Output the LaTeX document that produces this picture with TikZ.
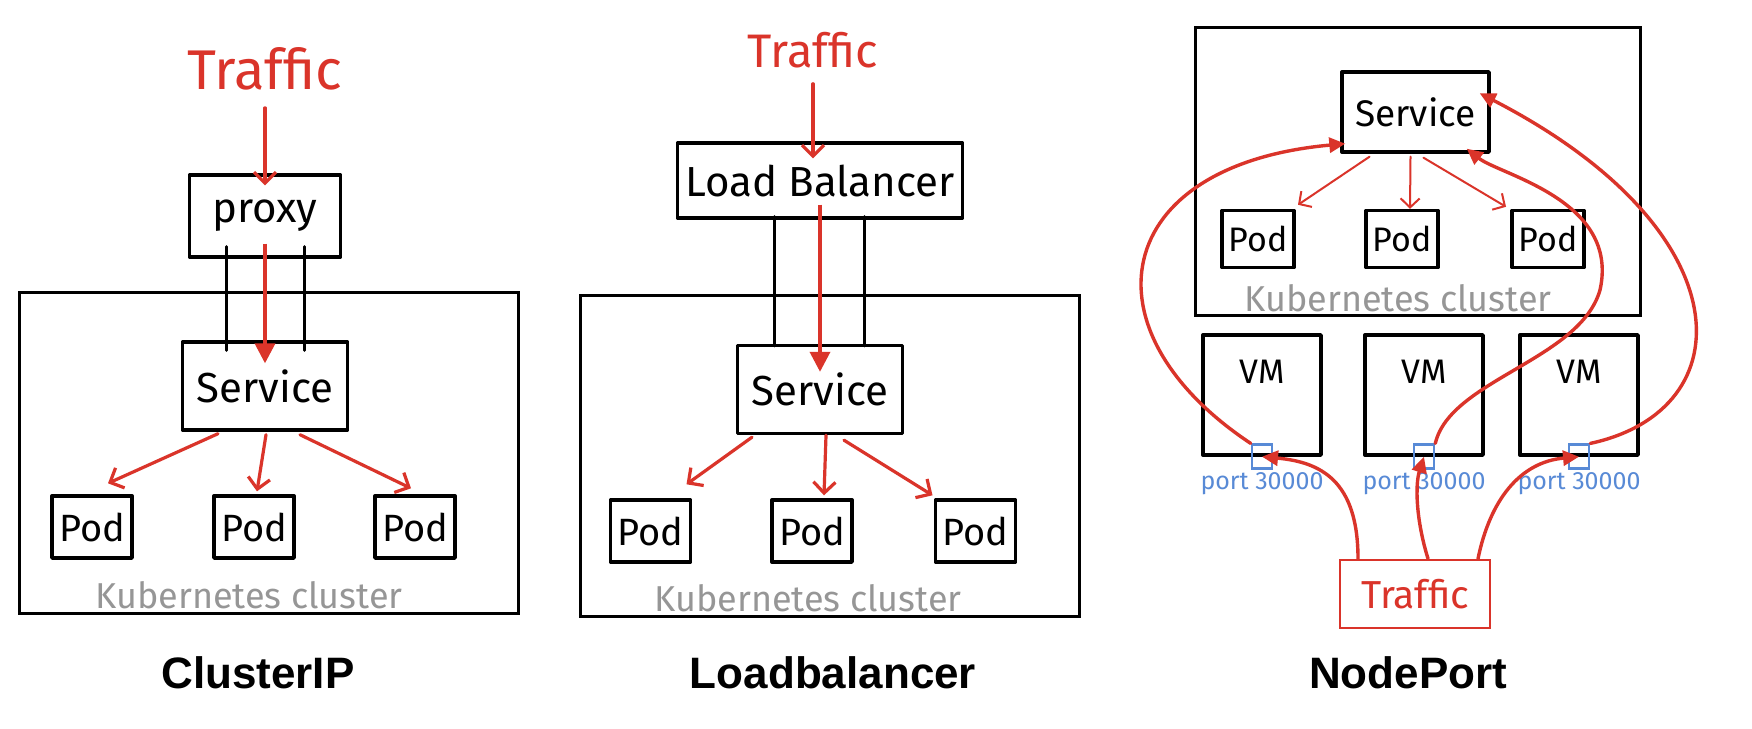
\documentclass[tikz,border=0pt]{standalone}
\usepackage{fontspec}
\setmainfont{Fira Sans}
\newfontfamily\titlefont{Liberation Sans}
\usetikzlibrary{arrows.meta, positioning}
\definecolor{sketchred}{RGB}{218,52,42}
\definecolor{portblue}{RGB}{88,138,214}
\definecolor{clustergray}{RGB}{150,150,150}

\begin{document}
\begin{tikzpicture}[
    x=1pt, y=1pt,
    on grid,
    every node/.style={inner sep=2pt},
    box/.style={draw, line width=3.4pt, inner sep=0pt, line join=round},
    cluster/.style={draw, line width=3pt, minimum width=499pt, minimum height=321pt},
    service/.style={box, minimum width=165pt, minimum height=88pt, font=\fontsize{42}{44}\selectfont},
    pod/.style={box, minimum width=80pt, minimum height=62pt, font=\fontsize{38}{40}\selectfont},
    smallpod/.style={box, minimum width=72pt, minimum height=57pt, font=\fontsize{34}{36}\selectfont},
    vm/.style={box, minimum width=118pt, minimum height=120pt},
    port/.style={draw=portblue, line width=2.6pt, minimum width=20pt, minimum height=24pt, inner sep=0pt, label distance=3pt},
    portlabel/.style={text=portblue, font=\fontsize{25}{27}\selectfont},
    clusterlabel/.style={text=clustergray, font=\fontsize{36}{38}\selectfont, anchor=base},
    traffic/.style={text=sketchred, anchor=base},
    title/.style={font=\titlefont\bfseries\fontsize{44}{48}\selectfont, anchor=base},
    wire/.style={line width=3pt, line cap=round},
    flow/.style={draw=sketchred, line width=3.2pt, line cap=round, -{Straight Barb[length=11pt, width=22pt]}},
    bigflow/.style={draw=sketchred, line width=3.6pt, -{Triangle[length=20pt, width=20pt]}},
    thinflow/.style={draw=sketchred, line width=2pt, line cap=round, -{Straight Barb[length=9pt, width=19pt]}},
    nodeflow/.style={draw=sketchred, line width=3.4pt, line cap=round, -{Triangle[length=16pt, width=15pt]}}
]
   \path[use as bounding box, fill=white] (0,0) rectangle (1752,-728);

   % ClusterIP
   \node[traffic, font=\fontsize{56}{60}\selectfont] (traffic1) at (265,-89) {Traffic};
   \node[box, minimum width=151pt, minimum height=82pt, font=\fontsize{42}{44}\selectfont] (proxy) at (265,-216) {proxy};
   \node[cluster] (cluster1) at (268.5,-453) {};
   \node[service] (svc1) at (265,-386) {Service};
   \node[pod] (pod12) at (254,-527) {Pod};
   \node[pod, left=162pt of pod12] (pod11) {Pod};
   \node[pod, right=161pt of pod12] (pod13) {Pod};
   \node[clusterlabel] (k8s1) at (249,-608) {Kubernetes cluster};
   \node[title] (title1) at (258,-688) {ClusterIP};

   \draw[flow, shorten <=16pt, shorten >=-12pt] (traffic1.south) -- (traffic1.south |- proxy.north);
   \draw[wire, shorten <=-12pt, shorten >=-10pt] ([xshift=-39pt]proxy.south) -- ([xshift=-39pt]svc1.north);
   \draw[wire, shorten <=-12pt, shorten >=-10pt] ([xshift=39pt]proxy.south) -- ([xshift=39pt]svc1.north);
   \draw[bigflow, shorten <=-15pt, shorten >=-23pt] (proxy) -- (svc1);
   \draw[flow] ([xshift=-47pt, yshift=-2pt]svc1.south) -- ([xshift=16pt, yshift=11pt]pod11.north);
   \draw[flow] ([xshift=1pt, yshift=-3pt]svc1.south) -- ([xshift=3pt, yshift=3pt]pod12.north);
   \draw[flow] ([xshift=35pt, yshift=-3pt]svc1.south) -- ([xshift=-4pt, yshift=6pt]pod13.north);

   % Loadbalancer
   \node[traffic, font=\fontsize{47}{50}\selectfont] (traffic2) at (813,-67) {Traffic};
   \node[box, minimum width=285pt, minimum height=75pt, font=\fontsize{42}{44}\selectfont] (lb) at (820,-180.5) {Load Balancer};
   \node[cluster] (cluster2) at (829.5,-456) {};
   \node[service] (svc2) at (820,-389.5) {Service};
   \node[pod] (pod22) at (812,-531) {Pod};
   \node[pod, left=161.5pt of pod22] (pod21) {Pod};
   \node[pod, right=163.5pt of pod22] (pod23) {Pod};
   \node[clusterlabel] (k8s2) at (808,-611) {Kubernetes cluster};
   \node[title] (title2) at (833,-688) {Loadbalancer};

   \draw[flow, shorten <=14pt, shorten >=-17pt] (traffic2.south) -- (traffic2.south |- lb.north);
   \draw[wire, shorten <=-3pt, shorten >=-2pt] ([xshift=-46pt]lb.south) -- ([xshift=-46pt]svc2.north);
   \draw[wire, shorten <=-3pt, shorten >=-2pt] ([xshift=44pt]lb.south) -- ([xshift=44pt]svc2.north);
   \draw[bigflow, shorten <=-15pt, shorten >=-28pt] (lb) -- (svc2);
   \draw[flow] ([xshift=-68pt, yshift=-2pt]svc2.south) -- ([xshift=36pt, yshift=14pt]pod21.north);
   \draw[flow] ([xshift=6pt]svc2.south) -- ([xshift=12pt, yshift=3pt]pod22.north);
   \draw[flow] ([xshift=24pt, yshift=-5pt]svc2.south) -- ([xshift=-43pt, yshift=3pt]pod23.north);

   % NodePort
   \node[draw, line width=3pt, minimum width=445pt, minimum height=288pt] (cluster3) at (1417.5,-171) {};
   \node[box, minimum width=147pt, minimum height=80pt, font=\fontsize{37}{40}\selectfont] (svc3) at (1415.5,-112) {Service};
   \node[smallpod] (pod32) at (1402,-239) {Pod};
   \node[smallpod, left=144pt of pod32] (pod31) {Pod};
   \node[smallpod, right=146pt of pod32] (pod33) {Pod};
   \node[clusterlabel] (k8s3) at (1398,-311) {Kubernetes cluster};

   \node[vm, label={[anchor=base, yshift=-50pt, font=\fontsize{34}{36}\selectfont]north:VM}] (vm2) at (1424,-395) {};
   \node[vm, left=162pt of vm2, label={[anchor=base, yshift=-50pt, font=\fontsize{34}{36}\selectfont]north:VM}] (vm1) {};
   \node[vm, right=155pt of vm2, label={[anchor=base, yshift=-50pt, font=\fontsize{34}{36}\selectfont]north:VM}] (vm3) {};

   \node[port, label={[portlabel]below:port 30000}] (port1) at (vm1.south) {};
   \node[port, label={[portlabel]below:port 30000}] (port2) at (vm2.south) {};
   \node[port, label={[portlabel]below:port 30000}] (port3) at (vm3.south) {};

   \node[draw=sketchred, line width=2.6pt, minimum width=150pt, minimum height=68pt, text=sketchred, font=\fontsize{39}{42}\selectfont] (traffic3) at (1415,-594) {Traffic};
   \node[title] (title3) at (1408,-688) {NodePort};

   \draw[thinflow] ([xshift=-46pt, yshift=-3pt]svc3.south) -- ([xshift=40pt, yshift=4pt]pod31.north);
   \draw[thinflow] ([xshift=-5pt, yshift=-3pt]svc3.south) -- ([xshift=8pt]pod32.north);
   \draw[thinflow] ([xshift=8pt, yshift=-4pt]svc3.south) -- ([xshift=-42pt, yshift=2pt]pod33.north);

   % traffic into the node ports
   \draw[nodeflow] ([xshift=-57pt]traffic3.north) .. controls (1358,-480) and (1320,-462) .. (port1.center);
   \draw[nodeflow] ([xshift=13pt]traffic3.north) .. controls (1416,-520) and (1415,-485) .. (port2.center);
   \draw[nodeflow] ([xshift=63pt]traffic3.north) .. controls (1490,-500) and (1520,-462) .. (port3.center);

   % node ports to the service
   \draw[nodeflow] (port1.north west) .. controls (1080,-330) and (1110,-165) .. ([xshift=5pt, yshift=10pt]svc3.south west);
   \draw[nodeflow] (port2.north east) .. controls (1450,-380) and (1580,-360) .. (1600,-290)
        .. controls (1620,-200) and (1500,-175) .. ([xshift=-24pt, yshift=5pt]svc3.south east);
   \draw[nodeflow] (port3.north east) .. controls (1745,-410) and (1745,-230) .. ([xshift=-11pt, yshift=-23pt]svc3.north east);
\end{tikzpicture}
\end{document}
